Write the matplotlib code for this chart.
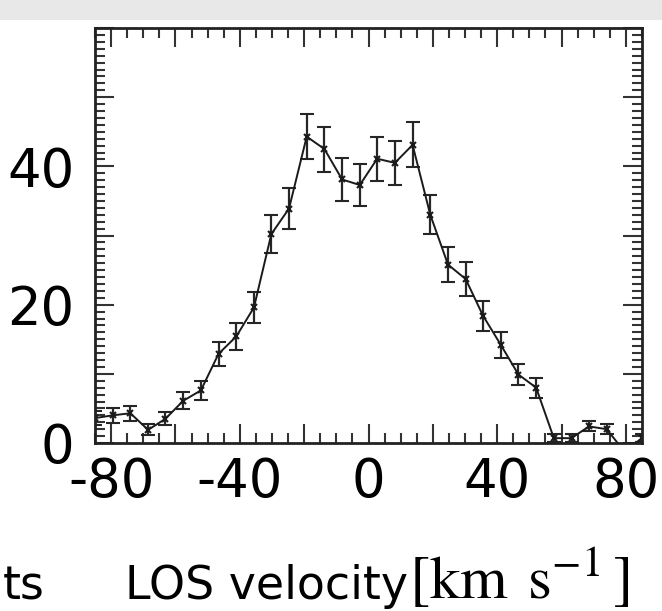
# LOS velocity histogram (background subtracted) with Poisson-like error bars
import numpy as np
import matplotlib.pyplot as plt
from matplotlib.patches import Rectangle
from matplotlib.ticker import MultipleLocator, FuncFormatter

plt.rcParams['font.family'] = 'DejaVu Sans'
plt.rcParams['mathtext.fontset'] = 'stix'
plt.rcParams['axes.unicode_minus'] = False

# bin centres (km/s)
velocity = [-85.0, -79.5, -74.0, -68.5, -63.1, -57.6, -52.1, -46.6,
            -41.1, -35.6, -30.2, -24.7, -19.2, -13.7, -8.2, -2.7,
            2.7, 8.2, 13.7, 19.2, 24.7, 30.2, 35.6, 41.1,
            46.6, 52.1, 57.6, 63.1, 68.5, 74.0, 79.5, 85.0]
counts = [3.6, 4.0, 4.3, 1.9, 3.5, 6.1, 7.6, 12.9,
          15.4, 19.6, 30.2, 33.9, 44.3, 42.5, 38.1, 37.3,
          41.1, 40.5, 43.1, 33.0, 25.8, 23.7, 18.4, 14.2,
          9.9, 8.0, 0.7, 0.7, 2.4, 2.0, -1.2, 0.7]
errors = [1.0, 1.05, 1.05, 0.8, 0.95, 1.23, 1.37, 1.76,
          1.93, 2.2, 2.72, 2.9, 3.3, 3.25, 3.08, 3.04,
          3.18, 3.2, 3.25, 2.84, 2.53, 2.46, 2.14, 1.86,
          1.54, 1.45, 0.6, 0.6, 0.72, 0.72, 0.6, 0.6]

xticks_labelled = [-80, -40, 0, 40, 80]
yticks_labelled = [0, 20, 40]

fig = plt.figure(figsize=(6.62, 6.11), dpi=100)
# grey strip along the top of the screenshot
fig.patches.append(Rectangle((0, 1 - 20 / 611), 1, 20 / 611, transform=fig.transFigure,
                             facecolor='#e8e8e8', edgecolor='none', zorder=0))

ax = fig.add_axes([95 / 662, 168 / 611, 547 / 662, 415 / 611])

ax.errorbar(velocity, counts, yerr=errors, color='#1a1a1a', lw=1.4,
            marker='x', ms=4.5, mew=1.5, ecolor='#262626', elinewidth=1.6,
            capsize=4.8, capthick=1.6)

ax.set_xlim(-85, 85)
ax.set_ylim(0, 60)

ax.xaxis.set_major_locator(MultipleLocator(20))
ax.xaxis.set_minor_locator(MultipleLocator(5))
ax.yaxis.set_major_locator(MultipleLocator(10))
ax.yaxis.set_minor_locator(MultipleLocator(1))

ax.xaxis.set_major_formatter(FuncFormatter(
    lambda v, p: f'{v:.0f}' if round(v) in xticks_labelled else ''))
ax.yaxis.set_major_formatter(FuncFormatter(
    lambda v, p: f'{v:.0f}' if round(v) in yticks_labelled else ''))

ax.tick_params(which='both', direction='in', top=True, right=True,
               color='#333333', width=1.5, labelsize=38)
ax.tick_params(which='major', length=14)
ax.tick_params(which='minor', length=7)
ax.tick_params(axis='x', which='major', pad=9)
ax.tick_params(axis='y', which='major', pad=15)

for s in ax.spines.values():
    s.set_linewidth(2)
    s.set_color('#222222')

fig.text(125 / 662, 1 - 599 / 611, 'LOS velocity', fontsize=33,
         ha='left', va='baseline')
fig.text(409 / 662, 1 - 599 / 611, r'$\mathrm{[km\;\,s^{-1}\,]}$', fontsize=44,
         ha='left', va='baseline')
fig.text(45 / 662, 1 - 599 / 611, 'ts', fontsize=33, ha='right', va='baseline')

fig.savefig('out.png', dpi=100)
